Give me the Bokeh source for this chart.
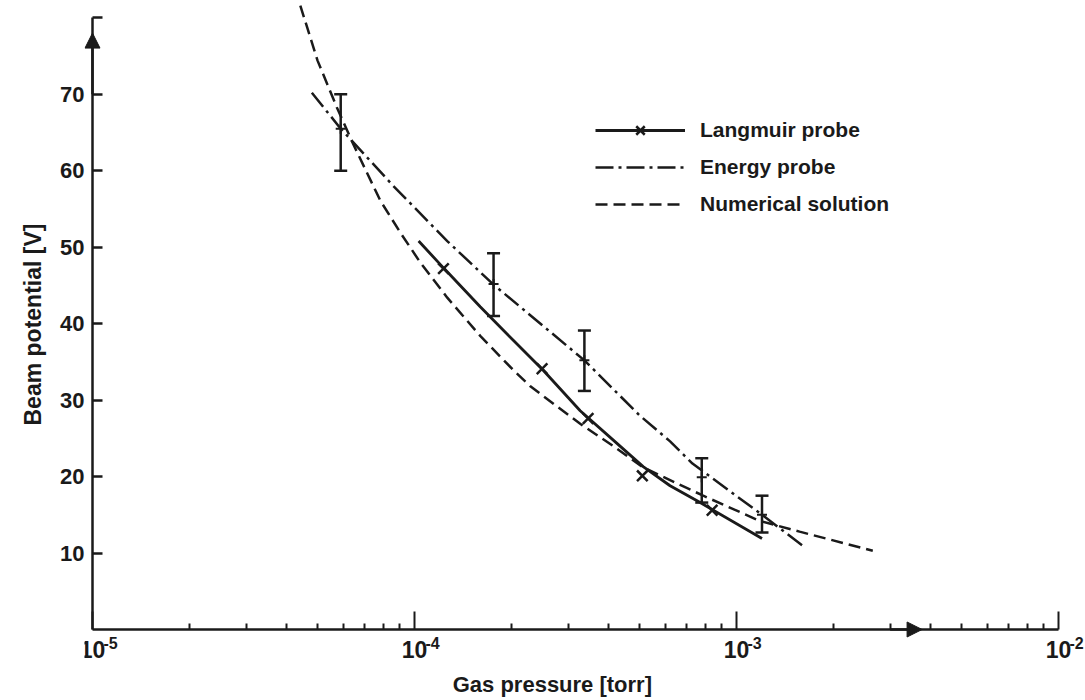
from bokeh.plotting import figure
from bokeh.models import (FixedTicker, Arrow, NormalHead, Legend, LegendItem,
                          LinearAxis, LogAxis, LabelSet, Label, Title,
                          ColumnDataSource)
from bokeh.core.properties import value
from bokeh.embed import file_html
from bokeh.resources import INLINE

# ---------------- data ----------------
# Numerical solution (dashed curve)
num_p = [4.42e-5, 5.0e-5, 5.75e-5, 6.45e-5, 7.83e-5, 9.04e-5, 1.042e-4, 1.264e-4,
         1.60e-4, 2.03e-4, 2.29e-4, 3.27e-4, 4.14e-4, 5.13e-4, 7.88e-4, 1.18e-3,
         1.57e-3, 2.65e-3]
num_v = [81.6, 74.4, 68.2, 63.5, 56.1, 51.9, 48.0, 43.4,
         38.4, 33.9, 31.8, 26.9, 24.0, 21.2, 17.5, 14.2,
         12.8, 10.3]

# Energy probe (dash-dot curve)
energy_line_p = [4.8e-5, 5.9e-5, 8.6e-5, 1.264e-4, 1.76e-4, 3.37e-4, 5.0e-4, 6.22e-4,
                 7.3e-4, 1.2e-3, 1.6e-3]
energy_line_v = [70.2, 65.5, 58.0, 50.8, 45.1, 35.2, 28.0, 24.6,
                 21.7, 15.0, 11.0]

# Energy probe measured points with error bars
energy_p = [5.9e-5, 1.76e-4, 3.37e-4, 7.8e-4, 1.2e-3]
energy_v = [65.5, 45.2, 35.2, 19.9, 15.0]
energy_lo = [60.0, 41.0, 31.2, 16.6, 12.7]
energy_hi = [70.0, 49.2, 39.1, 22.4, 17.5]

# Langmuir probe (solid curve + x markers)
lang_line_p = [1.03e-4, 1.23e-4, 1.60e-4, 2.03e-4, 2.51e-4, 3.27e-4, 4.11e-4,
               5.13e-4, 6.22e-4, 7.71e-4, 1.2e-3]
lang_line_v = [50.8, 47.3, 42.2, 37.8, 33.9, 28.6, 24.9,
               21.3, 18.8, 16.6, 11.9]
lang_p = [1.23e-4, 2.49e-4, 3.46e-4, 5.1e-4, 8.4e-4]
lang_v = [47.2, 34.1, 27.6, 20.1, 15.6]

# Axes
x_major = [1e-5, 1e-4, 1e-3, 1e-2]
x_minor = [m * d for d in [1e-5, 1e-4, 1e-3] for m in range(2, 10)]
x_tick_base = ["10", "10", "10", "10"]
x_tick_exp = ["-5", "-4", "-3", "-2"]
y_ticks = [10, 20, 30, 40, 50, 60, 70, 80]
y_tick_labels = ["10", "20", "30", "40", "50", "60", "70", ""]
y_axis_top = 80
y_arrow = (70, 78)
x_arrow = (3.0e-3, 3.77e-3)
x_title = "Gas pressure [torr]"
x_title_at = 2.68e-4
y_title = "Beam potential [V]"

INK = "#1a1a1a"
FONT = "Liberation Sans"

# ---------------- figure ----------------
# ranges reach past the axes so arrow heads, x tick labels and the x title
# sit inside the frame; the drawn axis lines are pinned at 1e-5 and 0.
p = figure(width=1085, height=700, x_axis_type="log", x_axis_location=None,
           x_range=(10 ** -5.0248, 10 ** -1.9162), y_range=(-9.024, 82),
           output_backend="svg", toolbar_location=None,
           min_border_left=84, min_border_right=0,
           min_border_top=2, min_border_bottom=2)
p.outline_line_color = None
p.xgrid.visible = False
p.ygrid.visible = False
p.background_fill_color = "white"
p.border_fill_color = "white"


def style_line_axis(ax):
    ax.axis_line_width = 2.5
    ax.axis_line_color = INK
    ax.major_tick_out = 0
    ax.major_tick_line_color = INK
    ax.minor_tick_out = 0
    ax.minor_tick_line_color = INK
    ax.major_label_text_font_size = "1px"
    ax.major_label_standoff = 0


# primary y axis: only tick labels
ya = p.yaxis[0]
ya.ticker = FixedTicker(ticks=y_ticks)
ya.major_label_overrides = dict(zip(y_ticks, y_tick_labels))
ya.axis_line_color = None
ya.major_tick_line_color = None
ya.minor_tick_line_color = None
ya.major_tick_in = 0
ya.major_tick_out = 0
ya.major_label_standoff = 0
ya.major_label_text_font = FONT
ya.major_label_text_font_size = "22px"
ya.major_label_text_font_style = "bold"
ya.major_label_text_color = INK

# drawn y axis line with inward ticks
ya2 = LinearAxis(fixed_location=x_major[0], bounds=(0, y_axis_top),
                 ticker=FixedTicker(ticks=y_ticks),
                 major_label_overrides={t: "" for t in y_ticks})
style_line_axis(ya2)
ya2.major_tick_in = 10
ya2.major_tick_line_width = 2.5
ya2.minor_tick_in = 0
p.add_layout(ya2, "left")

# y axis title (rotated), starting at the height of the original title
p.add_layout(Title(text=y_title, align="left", offset=273, standoff=24,
                   text_font=FONT, text_font_size="23px",
                   text_font_style="bold", text_color=INK), "left")

# drawn x axis line with inward ticks
xa2 = LogAxis(fixed_location=0, bounds=(x_major[0], x_major[-1]),
              ticker=FixedTicker(ticks=x_major, minor_ticks=x_minor),
              major_label_overrides={t: "" for t in x_major})
style_line_axis(xa2)
xa2.major_tick_in = 18
xa2.major_tick_line_width = 2
xa2.minor_tick_in = 6
xa2.minor_tick_line_width = 2
p.add_layout(xa2, "below")

# x tick labels: 10 with a raised exponent
tick_src = ColumnDataSource(dict(x=x_major, y=[0] * len(x_major),
                                 base=x_tick_base, exp=x_tick_exp))
p.add_layout(LabelSet(x="x", y="y", text="base", source=tick_src,
                      text_align="center", text_baseline="top",
                      y_offset=-12, text_font=value(FONT),
                      text_font_size=value("23px"), text_font_style=value("bold"),
                      text_color=INK))
p.add_layout(LabelSet(x="x", y="y", text="exp", source=tick_src,
                      text_align="left", text_baseline="top",
                      x_offset=11, y_offset=-8, text_font=value(FONT),
                      text_font_size=value("16px"), text_font_style=value("bold"),
                      text_color=INK))

# x axis title
p.add_layout(Label(x=x_title_at, y=0, text=x_title, text_align="center",
                   text_baseline="top", y_offset=-43, text_font=FONT,
                   text_font_size="22px", text_font_style="bold",
                   text_color=INK))

# axis arrows
p.add_layout(Arrow(end=NormalHead(size=15, fill_color=INK, line_color=INK),
                   x_start=x_major[0], x_end=x_major[0],
                   y_start=y_arrow[0], y_end=y_arrow[1],
                   line_width=2.5, line_color=INK))
p.add_layout(Arrow(end=NormalHead(size=15, fill_color=INK, line_color=INK),
                   x_start=x_arrow[0], x_end=x_arrow[1],
                   y_start=0, y_end=0, line_width=2.5, line_color=INK))

# ---------------- data marks ----------------
r_num = p.line(num_p, num_v, line_color=INK, line_width=2.5, line_dash="12 6")
r_en = p.line(energy_line_p, energy_line_v, line_color=INK, line_width=2.5,
              line_dash="18 5 3 5")
r_lang = p.line(lang_line_p, lang_line_v, line_color=INK, line_width=2.8)
r_lang_m = p.scatter(lang_p, lang_v, marker="x", size=15, line_color=INK,
                     line_width=2.5)

# error bars
p.segment(energy_p, energy_lo, energy_p, energy_hi, line_color=INK, line_width=2.5)
p.scatter(energy_p, energy_lo, marker="dash", size=13, line_color=INK, line_width=2.5)
p.scatter(energy_p, energy_hi, marker="dash", size=13, line_color=INK, line_width=2.5)
p.scatter(energy_p, energy_v, marker="cross", size=10, line_color=INK, line_width=2)

# legend
legend = Legend(items=[
    LegendItem(label="Langmuir probe", renderers=[r_lang, r_lang_m]),
    LegendItem(label="Energy probe", renderers=[r_en]),
    LegendItem(label="Numerical solution", renderers=[r_num]),
], location=(511, 479), glyph_width=90, glyph_height=30, spacing=7,
    label_standoff=15, padding=10, margin=0,
    border_line_color=None, background_fill_alpha=0,
    label_text_font=FONT, label_text_font_size="21px",
    label_text_font_style="bold", label_text_color=INK)
p.add_layout(legend)

open("out.html", "w").write(file_html(p, INLINE))
